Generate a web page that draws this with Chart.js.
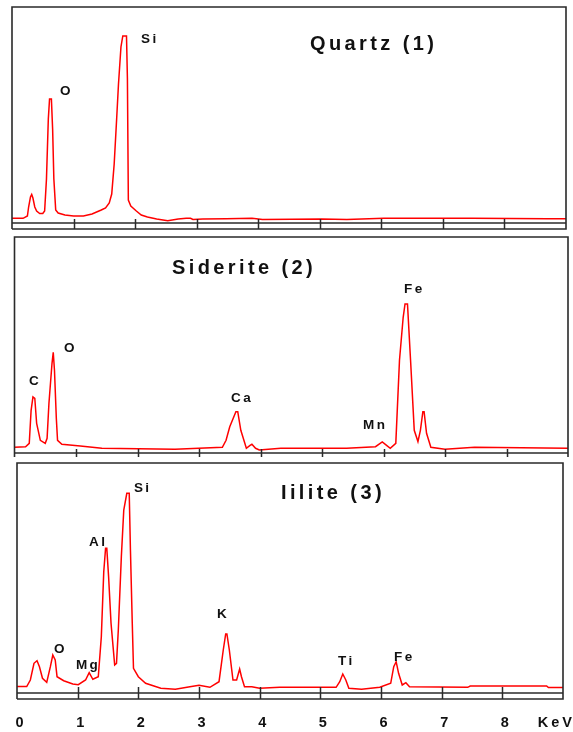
<!DOCTYPE html>
<html>
<head>
<meta charset="utf-8">
<script src="https://cdn.jsdelivr.net/npm/chart.js@4"></script>
<style>
  html, body { margin: 0; padding: 0; background: #fff; }
  #wrap { position: relative; width: 573px; height: 732px; }
  canvas { position: absolute; left: 0; top: 0; }
</style>
</head>
<body>
<div id="wrap">
  <canvas id="c1" width="573" height="732"></canvas>
  <canvas id="c2" width="573" height="732"></canvas>
  <canvas id="c3" width="573" height="732"></canvas>
</div>
<script>
// ---------------- DATA ----------------
// Energy axis (keV)
const tickEnergies = [1, 2, 3, 4, 5, 6, 7, 8];
const tickLabelEnergies = [0, 1, 2, 3, 4, 5, 6, 7, 8];
const tickLabels = ['0', '1', '2', '3', '4', '5', '6', '7', '8'];
const unitLabel = 'KeV';

// Quartz (1) spectrum
const quartzKeV = [0.00,0.18,0.25,0.27,0.30,0.32,0.34,0.37,0.40,0.45,0.50,0.53,0.56,0.59,0.61,0.64,0.66,0.68,0.71,0.75,0.86,1.00,1.16,1.30,1.45,1.52,1.58,1.62,1.66,1.70,1.73,1.77,1.80,1.86,1.875,1.89,1.93,2.02,2.10,2.20,2.35,2.53,2.70,2.83,2.90,2.94,3.10,3.48,3.90,4.07,5.03,5.44,6.04,7.47,8.70,9.00];
const quartzCounts = [0.7,0.7,3,12,22,24.5,21,12,8,5.5,5.5,8,40,100,120,120,90,40,9,6,4,3,3,5,9,11,16,25,55,100,135,172,183,183,140,19,13,8,4,2,0,-1.7,0,0.7,0.7,-0.5,0,0.2,0.7,-0.5,0,-0.5,0.7,0.8,0.3,0.3];

// Siderite (2) spectrum
const sideriteKeV = [0.00,0.18,0.24,0.27,0.30,0.33,0.36,0.42,0.50,0.53,0.56,0.61,0.63,0.65,0.68,0.70,0.77,1.07,1.42,2.61,3.38,3.44,3.50,3.60,3.63,3.68,3.77,3.83,3.86,3.92,3.98,4.33,5.40,5.87,5.98,6.05,6.11,6.20,6.26,6.32,6.35,6.39,6.44,6.50,6.56,6.60,6.64,6.66,6.70,6.77,7.00,7.48,9.00];
const sideriteCounts = [1,1.6,5,38,51.5,50,25,8,5,10,45,85,96,78,30,8,4,2.3,0,-1,1,8,21.6,36.6,36.6,18,0,3,4,0,-1.7,0,0,1.6,6.3,3,0,5,88,131,144.3,144.3,88,18,6.7,18,36.6,36.6,15,1,-1,1,0];

// Iilite (3) spectrum
const illiteKeV = [0.00,0.16,0.22,0.28,0.33,0.37,0.42,0.49,0.55,0.59,0.63,0.66,0.77,0.92,1.01,1.13,1.19,1.25,1.34,1.39,1.43,1.46,1.48,1.51,1.55,1.61,1.64,1.67,1.72,1.76,1.81,1.85,1.87,1.90,1.92,2.00,2.12,2.37,2.61,2.85,3.00,3.18,3.33,3.40,3.44,3.46,3.50,3.56,3.62,3.67,3.70,3.75,3.87,4.00,4.33,5.26,5.32,5.37,5.42,5.47,5.68,5.98,6.16,6.21,6.25,6.29,6.35,6.41,6.47,7.43,7.47,8.73,8.76,9.00];
const illiteCounts = [0.7,0.7,7.3,24,26.6,20.6,9,5,20.6,32.3,27.3,10.6,6.6,3.3,2.6,7.3,14.6,8,10.6,50.6,115.6,139,139,110.6,64,22.3,24,57.3,130.6,177.3,194,194,137,64,19,10.6,4,-1,-2,0.6,2,0,5.6,37.3,53.3,53.3,37.3,7.3,7.3,18.3,10.6,0.6,0.6,-1,0,0,5.6,13.3,7.3,-1,-2,0,4,20.6,25.6,14,2.3,4.6,0.6,0,1.3,1.3,-0.3,-0.3];

// Titles and peak labels (text, keV, intensity)
const quartzTitle = 'Quartz (1)';
const sideriteTitle = 'Siderite (2)';
const illiteTitle = 'Iilite (3)';
const quartzPeaks = [['Si', 2.096, 176], ['O', 0.78, 124]];
const sideritePeaks = [['C', 0.236, 63], ['O', 0.805, 96], ['Ca', 3.52, 46], ['Mn', 5.667, 19], ['Fe', 6.333, 155]];
const illitePeaks = [['Si', 1.928, 195], ['Al', 1.187, 141], ['O', 0.61, 34], ['Mg', 0.972, 18], ['K', 3.297, 69], ['Ti', 5.291, 22], ['Fe', 6.214, 26]];

// ---------------- LAYOUT ----------------
const FONT = "'Liberation Sans', Arial, sans-serif";
const panels = [
  { id: 'c1', keV: quartzKeV, counts: quartzCounts, title: quartzTitle, titlePos: [4.84, 169], peaks: quartzPeaks,
    box: { l: 12, t: 7, r: 566, b: 229 }, yMin: -10, yMax: 212, axisOff: 6, tickLen: 10, bottomBorder: true, labels: false },
  { id: 'c2', keV: sideriteKeV, counts: sideriteCounts, title: sideriteTitle, titlePos: [2.561, 174], peaks: sideritePeaks,
    box: { l: 14.5, t: 237, r: 568, b: 457 }, yMin: -8.7, yMax: 211.3, axisOff: 4, tickLen: 8, bottomBorder: false, labels: false },
  { id: 'c3', keV: illiteKeV, counts: illiteCounts, title: illiteTitle, titlePos: [4.351, 188], peaks: illitePeaks,
    box: { l: 17, t: 463, r: 563, b: 699 }, yMin: -11.7, yMax: 224.3, axisOff: 6, tickLen: 12, bottomBorder: true, labels: true }
];

function makePlugin(p) {
  return {
    id: 'decor_' + p.id,
    afterDraw(chart) {
      const ctx = chart.ctx;
      const a = chart.chartArea;
      const xs = chart.scales.x, ys = chart.scales.y;
      ctx.save();
      ctx.strokeStyle = '#2a2a2a';
      ctx.lineWidth = 1.6;
      // frame
      ctx.beginPath();
      ctx.moveTo(a.left, a.bottom);
      ctx.lineTo(a.left, a.top);
      ctx.lineTo(a.right, a.top);
      ctx.lineTo(a.right, a.bottom);
      if (p.bottomBorder) ctx.lineTo(a.left, a.bottom);
      ctx.stroke();
      // axis line
      ctx.lineWidth = 1.3;
      ctx.beginPath();
      ctx.moveTo(a.left, a.bottom - p.axisOff);
      ctx.lineTo(a.right, a.bottom - p.axisOff);
      ctx.stroke();
      // ticks
      ctx.lineWidth = 1.5;
      tickEnergies.forEach(e => {
        const x = Math.round(xs.getPixelForValue(e)) + 0.5;
        ctx.beginPath();
        ctx.moveTo(x, a.bottom - p.tickLen);
        ctx.lineTo(x, a.bottom);
        ctx.stroke();
      });
      // title
      ctx.fillStyle = '#111';
      ctx.textBaseline = 'alphabetic';
      ctx.textAlign = 'left';
      ctx.font = 'bold 20px ' + FONT;
      ctx.letterSpacing = '3.4px';
      ctx.fillText(p.title, xs.getPixelForValue(p.titlePos[0]), ys.getPixelForValue(p.titlePos[1]));
      // peak labels
      ctx.font = 'bold 13.5px ' + FONT;
      ctx.letterSpacing = '2.4px';
      p.peaks.forEach(([t, e, v]) => {
        ctx.fillText(t, xs.getPixelForValue(e), ys.getPixelForValue(v));
      });
      // energy tick labels
      if (p.labels) {
        ctx.font = 'bold 14.5px ' + FONT;
        ctx.letterSpacing = '0px';
        ctx.textAlign = 'center';
        tickLabelEnergies.forEach((e, i) => {
          ctx.fillText(tickLabels[i], xs.getPixelForValue(e) + 2.5, a.bottom + 28);
        });
        ctx.textAlign = 'right';
        ctx.letterSpacing = '3px';
        ctx.fillText(unitLabel, 575, a.bottom + 28);
      }
      ctx.restore();
    }
  };
}

panels.forEach(p => {
  const W = 573, H = 732;
  new Chart(document.getElementById(p.id), {
    type: 'line',
    data: {
      datasets: [{
        data: p.keV.map((x, i) => ({ x: x, y: p.counts[i] })),
        borderColor: '#ff0000',
        borderWidth: 1.5,
        pointRadius: 0,
        tension: 0,
        fill: false
      }]
    },
    options: {
      responsive: false,
      animation: false,
      devicePixelRatio: 1,
      layout: { padding: { left: p.box.l, top: p.box.t, right: W - p.box.r, bottom: H - p.box.b } },
      plugins: { legend: { display: false }, tooltip: { enabled: false } },
      scales: {
        x: { type: 'linear', min: 0, max: 9, display: false },
        y: { min: p.yMin, max: p.yMax, display: false }
      }
    },
    plugins: [makePlugin(p)]
  });
});
</script>
</body>
</html>
